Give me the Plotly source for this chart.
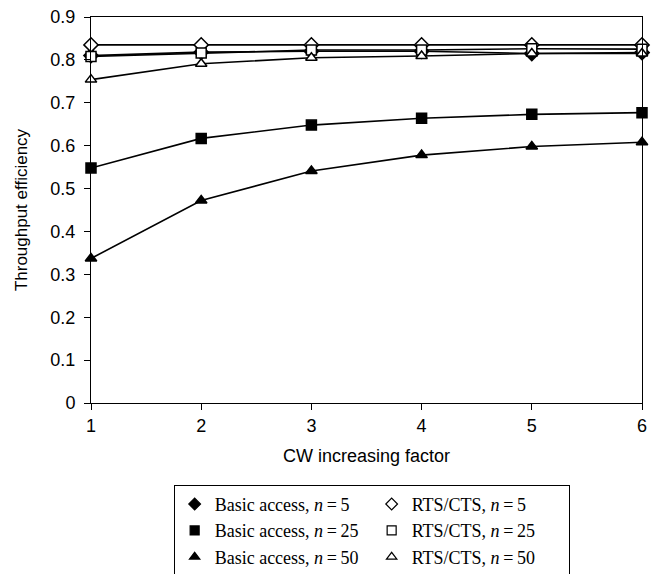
import plotly.graph_objects as go

x_factor = [1, 2, 3, 4, 5, 6]
basic_n5 = [0.810, 0.818, 0.820, 0.820, 0.815, 0.817]
basic_n25 = [0.548, 0.617, 0.648, 0.664, 0.673, 0.677]
basic_n50 = [0.337, 0.472, 0.541, 0.578, 0.598, 0.608]
rts_n5 = [0.835, 0.835, 0.835, 0.835, 0.835, 0.835]
rts_n25 = [0.808, 0.816, 0.823, 0.823, 0.826, 0.825]
rts_n50 = [0.754, 0.791, 0.805, 0.809, 0.815, 0.815]

ts = "\u2009"
series = [
    (f"Basic access, <i>n</i>{ts}={ts}5", basic_n5, "diamond", "black"),
    (f"RTS/CTS, <i>n</i>{ts}={ts}5", rts_n5, "diamond", "white"),
    (f"Basic access, <i>n</i>{ts}={ts}25", basic_n25, "square", "black"),
    (f"RTS/CTS, <i>n</i>{ts}={ts}25", rts_n25, "square", "white"),
    (f"Basic access, <i>n</i>{ts}={ts}50", basic_n50, "triangle-up", "black"),
    (f"RTS/CTS, <i>n</i>{ts}={ts}50", rts_n50, "triangle-up", "white"),
]

fig = go.Figure()
for name, ys, sym, fill in series:
    fig.add_trace(go.Scatter(
        x=x_factor, y=ys, mode="lines+markers", showlegend=False,
        line=dict(color="black", width=1.6),
        marker=dict(symbol=sym, size=10 if sym != "diamond" else 11, color=fill,
                    line=dict(color="black", width=1.5)),
        cliponaxis=False,
    ))
for name, ys, sym, fill in series:
    fig.add_trace(go.Scatter(
        x=[None], y=[None], mode="markers", name=name,
        marker=dict(symbol=sym, size=9, color=fill,
                    line=dict(color="black", width=1.2)),
    ))

fig.update_layout(
    width=651, height=574,
    margin=dict(l=91, r=9, t=17, b=171, autoexpand=False),
    plot_bgcolor="white", paper_bgcolor="white",
    font=dict(family="Liberation Sans, Arial", size=18, color="black"),
    xaxis=dict(
        range=[1, 6], tickvals=x_factor, showgrid=False, zeroline=False,
        showline=True, linecolor="black", linewidth=1, mirror=True,
        ticks="outside", ticklen=6, tickcolor="black",
        title=dict(text="CW increasing factor", font=dict(size=18), standoff=14),
        tickfont=dict(size=18),
    ),
    yaxis=dict(
        range=[0, 0.9], dtick=0.1, tickformat="~g", showgrid=False, zeroline=False,
        showline=True, linecolor="black", linewidth=1, mirror=True,
        ticks="outside", ticklen=6, tickcolor="black", ticklabelstandoff=5,
        title=dict(text="Throughput efficiency", font=dict(size=17), standoff=18),
        tickfont=dict(size=18),
    ),
    legend=dict(
        orientation="h", x=0.150, y=-0.212, xanchor="left", yanchor="top",
        entrywidth=152, entrywidthmode="pixels",
        bordercolor="black", borderwidth=1, bgcolor="white",
        font=dict(family="Liberation Serif, Times New Roman", size=18),
        tracegroupgap=0, itemwidth=30,
    ),
)

fig.write_html("out.html")
